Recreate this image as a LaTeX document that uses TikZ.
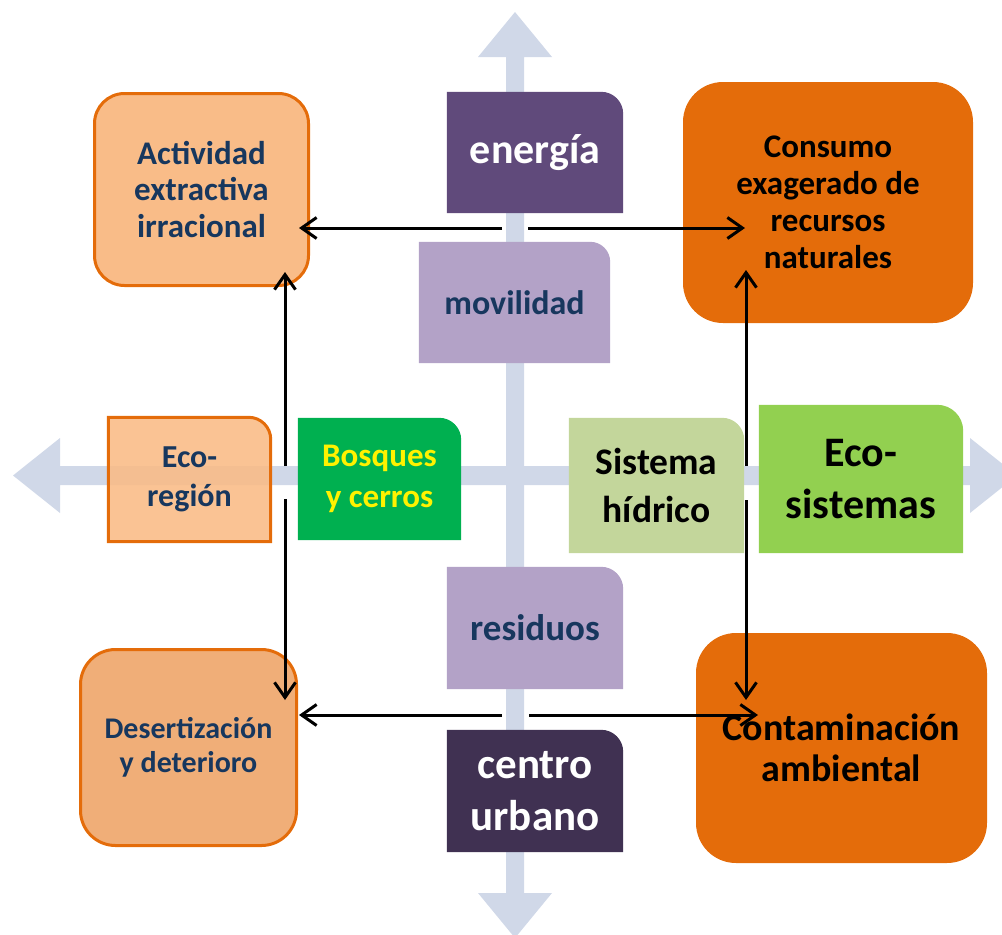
\documentclass[tikz,border=0pt]{standalone}
\usepackage{fontspec}
\setmainfont{Carlito}
\usetikzlibrary{arrows.meta}
\definecolor{crossc}{HTML}{D0D8E8}
\definecolor{txtblue}{HTML}{17375E}
\definecolor{orgline}{HTML}{E46C0A}
\definecolor{orgdark}{HTML}{E46C0A}
\definecolor{peach}{HTML}{F9BC88}
\definecolor{peachdark}{HTML}{F0AE78}
\definecolor{purdark}{HTML}{604A7B}
\definecolor{purdeep}{HTML}{403152}
\definecolor{purlight}{HTML}{B3A2C7}
\definecolor{grnbosq}{HTML}{00B050}
\definecolor{grnpale}{HTML}{C3D69B}
\definecolor{grnlime}{HTML}{92D050}
\pgfdeclarelayer{crosslayer}
\pgfdeclarelayer{shapelayer}
\pgfsetlayers{crosslayer,shapelayer,main}
\newcommand\trshape[3]{%
  \begin{pgfonlayer}{shapelayer}
  \path[#2] (#1.south west) -- (#1.north west) -- ([xshift=-#3pt]#1.north east)
    arc[start angle=90,end angle=0,radius=#3pt] -- (#1.south east) -- cycle;
  \end{pgfonlayer}}
\newcommand\fsz[2]{\fontsize{#1}{#2}\selectfont\bfseries}
\tikzset{
  lbl/.style={inner sep=0pt, align=center},
  rbox/.style={lbl, rounded corners=#1},
  conn/.style={draw=black, line width=3pt, -{Straight Barb[length=15pt,width=21pt,line width=3pt]}}
}
\begin{document}
\begin{tikzpicture}[x=1pt,y=-1pt]
\useasboundingbox (0,0) rectangle (1002,935);
\clip (0,0) rectangle (1002,935);
% big cross
\begin{pgfonlayer}{crosslayer}
\fill[crossc] (506,57) -- (478,57) -- (515,12) -- (552,57) -- (524,57) -- (524,893)
  -- (552,893) -- (515,938) -- (478,893) -- (506,893) -- cycle;
\fill[crossc] (60,466) -- (60,438) -- (13,475.5) -- (60,513) -- (60,485) -- (970,485)
  -- (970,513) -- (1017,475.5) -- (970,438) -- (970,466) -- cycle;
\end{pgfonlayer}
% corner boxes (all corners rounded)
\node[rbox=30pt, draw=orgline, line width=3pt, fill=peach, text=txtblue, font=\fsz{33}{36.8},
  minimum width=214pt, minimum height=192pt] (act) at (201.5,189.5)
  {Actividad\\extractiva\\irracional};
\node[rbox=35pt, draw=orgline, line width=3pt, fill=peachdark, text=txtblue, font=\fsz{30}{33.5},
  minimum width=216pt, minimum height=196pt] (des) at (188.5,747.5)
  {Desertización\\y deterioro};
\node[rbox=40pt, fill=orgdark, text=black, font=\fsz{33}{37},
  minimum width=290pt, minimum height=241pt] (cons) at (828,202.5)
  {Consumo\\exagerado de\\recursos\\naturales};
\node[rbox=40pt, fill=orgdark, text=black, font=\fsz{38}{41},
  minimum width=291pt, minimum height=230pt] (cont) at (841.5,748)
  {Contaminación\\ambiental};
% single rounded corner boxes
\node[lbl, text=white, font=\fsz{42}{50}, minimum width=176pt, minimum height=121pt] (ener) at (535,152.5)
  {energía};
\trshape{ener}{fill=purdark}{22}
\node[lbl, text=txtblue, font=\fsz{34}{41}, minimum width=191pt, minimum height=121pt] (mov) at (514.5,302.5)
  {movilidad};
\trshape{mov}{fill=purlight}{20}
\node[lbl, text=txtblue, font=\fsz{37}{45}, minimum width=176pt, minimum height=122pt] (res) at (535,628)
  {residuos};
\trshape{res}{fill=purlight}{22}
\node[lbl, text=white, font=\fsz{43}{52}, minimum width=176pt, minimum height=122pt] (cen) at (535,791)
  {centro\\urbano};
\trshape{cen}{fill=purdeep}{22}
\node[lbl, text=txtblue, font=\fsz{32}{38.5}, minimum width=162pt, minimum height=124pt] (ecor) at (189.5,479.5)
  {Eco-\\región};
\trshape{ecor}{fill=peach, fill opacity=0.9, draw=orgline, line width=3pt}{22}
\node[lbl, text=yellow, font=\fsz{33}{41}, minimum width=163pt, minimum height=122pt] (bosq) at (379.5,479)
  {Bosques\\y cerros};
\trshape{bosq}{fill=grnbosq}{22}
\node[lbl, text=black, font=\fsz{37.5}{48}, minimum width=175pt, minimum height=135pt] (sist) at (656.5,485.5)
  {Sistema\\hídrico};
\trshape{sist}{fill=grnpale}{22}
\node[lbl, text=black, font=\fsz{42}{52}, minimum width=204pt, minimum height=148pt] (ecos) at (861,479)
  {Eco-\\sistemas};
\trshape{ecos}{fill=grnlime}{26}
% connector end points
\coordinate (tA) at (502,228);   \coordinate (actE) at (299,228);
\coordinate (tB) at (528,228);   \coordinate (consW) at (745,228);
\coordinate (bA) at (502,715);   \coordinate (desE) at (299,715);
\coordinate (bB) at (529,715);   \coordinate (contW) at (758,715);
\coordinate (lA) at (285,466);   \coordinate (actS) at (285,272);
\coordinate (lB) at (285,499);   \coordinate (desN) at (285,700);
\coordinate (rA) at (746,466);   \coordinate (consS) at (746,270);
\coordinate (rB) at (746,500);   \coordinate (contN) at (746,700);
% connectors
\draw[conn] (tA) -- (actE);
\draw[conn] (tB) -- (consW);
\draw[conn] (bA) -- (desE);
\draw[conn] (bB) -- (contW);
\draw[conn] (lA) -- (actS);
\draw[conn] (lB) -- (desN);
\draw[conn] (rA) -- (consS);
\draw[conn] (rB) -- (contN);
\end{tikzpicture}
\end{document}
